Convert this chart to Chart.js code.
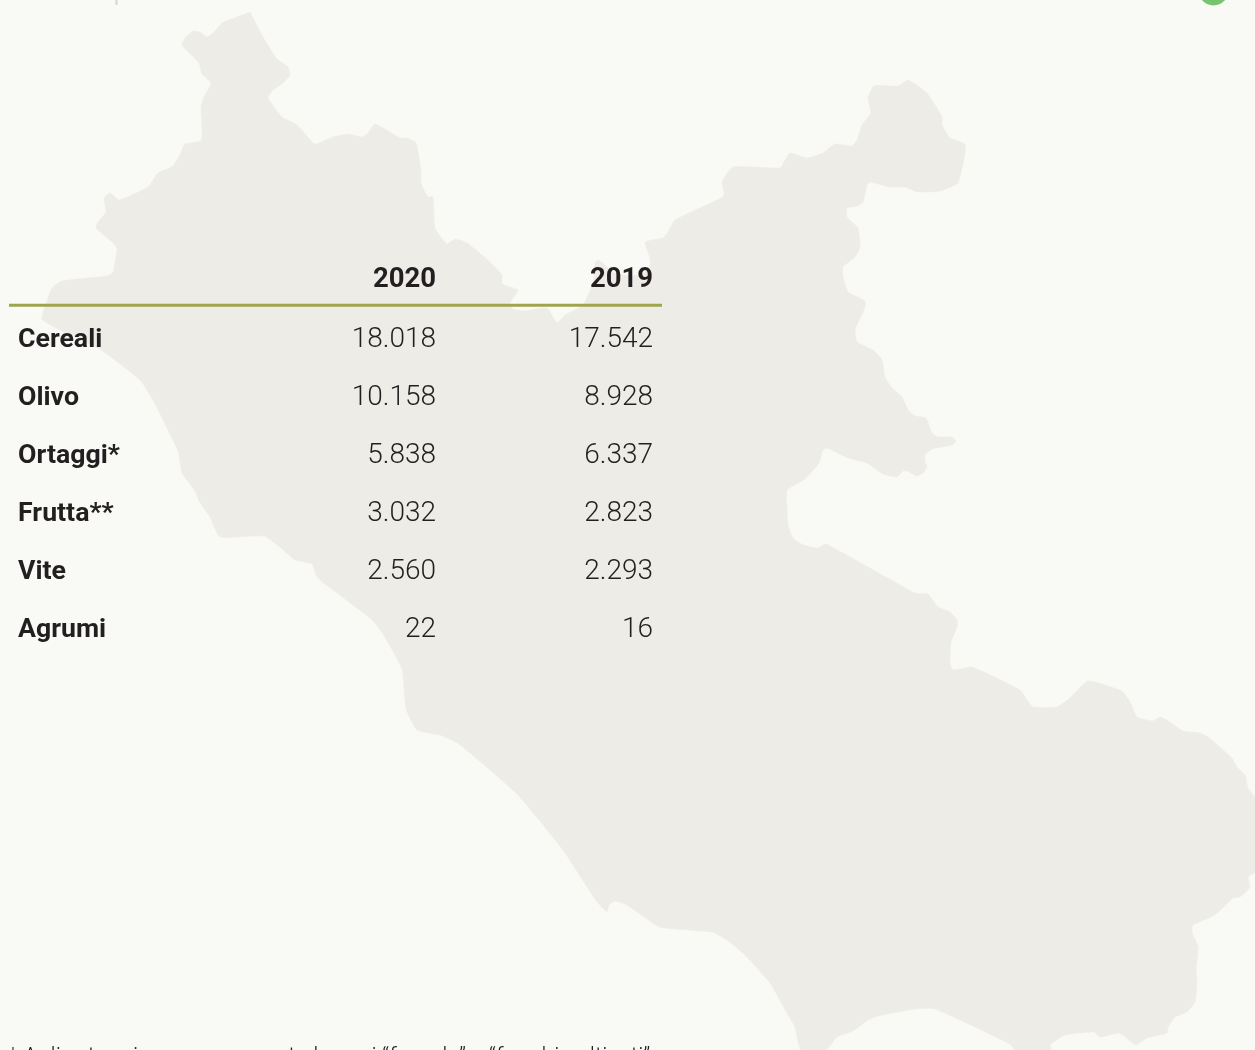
<!DOCTYPE html>
<html lang="it">
<head>
<meta charset="utf-8">
<title>Superfici coltivate</title>
<script src="https://cdn.jsdelivr.net/npm/chart.js@4"></script>
<style>
html,body{margin:0;padding:0;background:#f9faf5;overflow:hidden}
#wrap{position:relative;width:1255px;height:1050px}
canvas{display:block}
</style>
</head>
<body>
<div id="wrap"><canvas id="c" width="1255" height="1050"></canvas></div>
<script>
const crops = ['Cereali','Olivo','Ortaggi*','Frutta**','Vite','Agrumi'];
const years = ['2020','2019'];
const values2020 = [18018,10158,5838,3032,2560,22];
const values2019 = [17542,8928,6337,2823,2293,16];
const footnote = '* Agli ortaggi vanno sommate le voci “fragole” e “funghi coltivati”';

const mapX = [250,263,277,288,290,283,272,268,282,297,315,333,348,362,368,375,400,407,416,421,421,428,433,435,447,455,467,490,502,502,518,510,513,525,547,557,565,583,593,595,598,604,612,630,643,650,650,645,647,663,668,675,723,724,722,733,780,785,790,807,823,835,852,857,862,871,868,874,898,908,927,942,942,950,965,965,958,940,918,905,890,870,867,863,857,847,847,858,860,855,843,843,848,865,865,856,855,857,873,882,885,892,902,908,915,926,932,938,952,956,952,932,925,925,927,923,917,907,903,897,883,867,848,827,823,819,805,787,787,788,793,803,818,826,915,928,938,950,957,957,951,950,953,972,1020,1027,1033,1057,1070,1088,1122,1130,1137,1153,1160,1167,1183,1200,1208,1232,1237,1245,1248,1255,1255,1248,1250,1240,1233,1215,1193,1192,1198,1196,1197,1195,1187,1175,1168,1167,1147,1136,1123,1118,1100,1094,1065,1050,1051,1015,1010,935,915,878,868,853,837,826,801,797,795,787,770,745,727,712,660,627,615,609,607,598,589,563,517,459,440,417,406,402,383,371,320,316,312,295,281,264,220,210,199,195,182,178,153,140,101,60,42,52,62,107,113,117,112,96,98,106,104,110,119,148,158,173,180,185,201,202,201,204,211,202,199,182,185,193,200,207,213,223];
const mapY = [12,37,59,67,75,83,91,98,117,125,144,137,134,137,133,124,138,138,143,170,183,197,197,228,244,239,243,262,275,284,290,303,309,311,308,323,315,305,283,263,260,264,272,276,274,266,258,243,241,238,232,220,197,192,182,167,168,160,153,158,153,144,146,140,125,113,98,86,86,80,93,117,125,138,144,153,183,191,192,187,187,182,185,202,206,208,217,228,247,257,267,277,292,301,307,327,330,342,350,360,377,388,397,410,416,418,433,437,437,441,445,449,455,462,467,473,476,471,471,477,474,463,458,448,450,463,479,490,510,525,538,545,548,544,593,594,607,612,620,627,642,663,670,667,690,700,707,707,698,681,691,702,717,721,717,720,731,733,737,758,767,775,788,798,872,877,887,897,898,915,925,932,947,970,982,1002,1012,1017,1027,1033,1038,1045,1035,1033,1037,1032,1035,1045,1050,1050,1044,1009,1009,1016,1020,1031,1037,1050,1050,1037,1027,1013,983,955,940,932,927,905,901,905,912,903,890,850,794,744,735,730,709,669,634,619,580,575,564,560,548,536,537,517,501,491,473,451,400,380,350,330,319,288,281,276,272,248,242,228,222,212,198,193,200,187,173,166,155,144,141,127,107,97,83,74,63,45,38,31,32,37,33,22];

const mapPoints = mapX.map((x,i)=>({x,y:mapY[i]}));

const fmt = n => String(n).replace(/\B(?=(\d{3})+(?!\d))/g,'.');

const tablePlugin = {
  id:'tableText',
  afterDatasetsDraw(chart){
    const {ctx,scales} = chart;
    const x = scales.col, y = scales.row;
    ctx.save();
    ctx.fillStyle = '#231f20';
    ctx.textBaseline = 'alphabetic';
    ctx.font = '700 27.5px Roboto, sans-serif';
    ctx.textAlign = 'right';
    years.forEach((yr,i)=>ctx.fillText(yr, x.getPixelForValue(i), y.getPixelForValue(-1)+7));
    crops.forEach((name,r)=>{
      ctx.font = '700 26.7px Roboto, sans-serif';
      ctx.textAlign = 'left';
      ctx.fillText(name, x.getPixelForValue(-1.926), y.getPixelForValue(r)+9);
    });
    ctx.font = '300 28px Roboto, sans-serif';
    ctx.textAlign = 'right';
    chart.data.datasets.forEach(ds=>{
      if(ds.tableColumn===undefined) return;
      ds.data.forEach(p=>ctx.fillText(fmt(p.v), x.getPixelForValue(p.x), y.getPixelForValue(p.y)+9));
    });
    ctx.font = '300 23px Roboto, sans-serif';
    ctx.textAlign = 'left';
    ctx.fillText(footnote, 8, 1063.5);
    ctx.restore();
  }
};

new Chart(document.getElementById('c'),{
  type:'scatter',
  plugins:[tablePlugin],
  data:{datasets:[
    {label:'Lazio',data:mapPoints,xAxisID:'x',yAxisID:'y',showLine:true,fill:'shape',
     backgroundColor:'#edece7',borderColor:'#edece7',borderWidth:0.5,pointRadius:0,tension:0.15,order:5},
    {label:'Regola',data:[{x:9,y:305.3},{x:662,y:305.3}],xAxisID:'x',yAxisID:'y',showLine:true,
     borderColor:'#9fa44f',borderWidth:3,pointRadius:0,order:3},
    {label:'Tacca',data:[{x:116.5,y:0},{x:116.5,y:5}],xAxisID:'x',yAxisID:'y',showLine:true,
     borderColor:'#d9d5cc',borderWidth:2,pointRadius:0,order:3},
    {label:'Icona',data:[{x:1213.5,y:-9.5}],xAxisID:'x',yAxisID:'y',pointRadius:15,
     backgroundColor:'#77c36f',borderWidth:0,clip:false,order:3},
    {label:years[0],tableColumn:0,data:values2020.map((v,i)=>({x:0,y:i,v})),xAxisID:'col',yAxisID:'row',pointRadius:0,showLine:false},
    {label:years[1],tableColumn:1,data:values2019.map((v,i)=>({x:1,y:i,v})),xAxisID:'col',yAxisID:'row',pointRadius:0,showLine:false}
  ]},
  options:{
    responsive:false,animation:false,events:[],
    layout:{padding:0,autoPadding:false},
    plugins:{legend:{display:false},tooltip:{enabled:false},title:{display:false}},
    scales:{
      x:{type:'linear',display:false,min:0,max:1255},
      y:{type:'linear',display:false,min:0,max:1050,reverse:true},
      col:{type:'linear',display:false,min:-436/217,max:(1255-436)/217},
      row:{type:'linear',display:false,min:-338/58,max:(1050-338)/58,reverse:true}
    }
  }
});
</script>
</body>
</html>
